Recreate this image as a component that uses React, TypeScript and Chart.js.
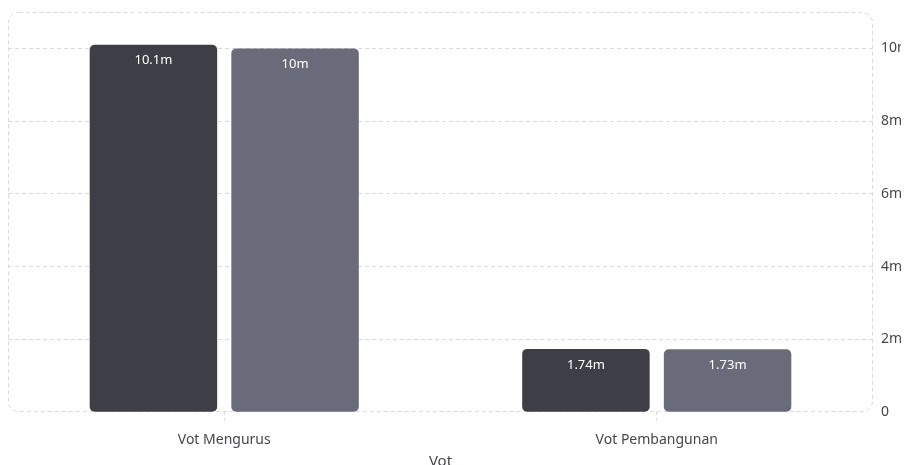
import React, { useEffect, useRef } from "react";
import { Chart, registerables } from "chart.js";

Chart.register(...registerables);

const categories = ["Vot Mengurus", "Vot Pembangunan"];
const seriesA = [10100000, 1740000];
const seriesB = [10000000, 1730000];
const labelsA = ["10.1m", "1.74m"];
const labelsB = ["10m", "1.73m"];
const yTicks = [0, 2000000, 4000000, 6000000, 8000000, 10000000];
const yTickLabels = ["0", "2m", "4m", "6m", "8m", "10m"];
const yMax = 11000000;
const axisTitle = "Vot";

const FONT = "'Noto Sans', 'Open Sans', sans-serif";
const GRID = "#d9d9de";
const TEXT = "#45454d";

const areaBorder = {
  id: "areaBorder",
  beforeDatasetsDraw(chart: any) {
    const { ctx, chartArea } = chart;
    ctx.save();
    ctx.strokeStyle = GRID;
    ctx.lineWidth = 1;
    ctx.setLineDash([4, 3]);
    ctx.beginPath();
    const x = Math.round(chartArea.left) + 0.5;
    const y = Math.round(chartArea.top) + 0.5;
    const w = Math.round(chartArea.right - chartArea.left) - 1;
    const h = Math.round(chartArea.bottom - chartArea.top) - 1;
    (ctx as any).roundRect(x, y, w, h, 10);
    ctx.stroke();
    ctx.restore();
  },
};

const barLabels = {
  id: "barLabels",
  afterDatasetsDraw(chart: any) {
    const { ctx } = chart;
    ctx.save();
    ctx.fillStyle = "#ffffff";
    ctx.font = `13px ${FONT}`;
    ctx.textAlign = "center";
    ctx.textBaseline = "middle";
    chart.data.datasets.forEach((ds: any, i: number) => {
      const meta = chart.getDatasetMeta(i);
      meta.data.forEach((bar: any, j: number) => {
        ctx.fillText(ds.valueLabels[j], bar.x, bar.y + 16);
      });
    });
    ctx.restore();
  },
};

export default function App() {
  const ref = useRef<HTMLCanvasElement>(null);
  useEffect(() => {
    if (!ref.current) return;
    const chart = new Chart(ref.current, {
      type: "bar",
      data: {
        labels: categories,
        datasets: [
          {
            label: "A",
            data: seriesA,
            backgroundColor: "#3e3e47",
            borderRadius: 5,
            borderSkipped: false,
            valueLabels: labelsA,
          } as any,
          {
            label: "B",
            data: seriesB,
            backgroundColor: "#6a6b7a",
            borderRadius: 5,
            borderSkipped: false,
            valueLabels: labelsB,
          } as any,
        ],
      },
      options: {
        animation: false,
        responsive: true,
        maintainAspectRatio: false,
        layout: { padding: { left: 0, top: 4, right: 0, bottom: 0 } },
        datasets: { bar: { categoryPercentage: 0.655, barPercentage: 0.9 } },
        plugins: {
          legend: { display: false },
          tooltip: { enabled: false },
        },
        scales: {
          x: {
            grid: {
              display: true,
              drawOnChartArea: false,
              drawTicks: true,
              tickLength: 9,
              offset: false,
              color: GRID,
              tickBorderDash: [3, 3],
            } as any,
            border: { display: false },
            ticks: {
              color: TEXT,
              font: { family: FONT, size: 14 },
              padding: 10,
            },
            title: {
              display: true,
              text: axisTitle,
              color: TEXT,
              font: { family: FONT, size: 15 },
              padding: { top: -5, bottom: 0 },
            },
          },
          y: {
            position: "right",
            min: 0,
            max: yMax,
            afterBuildTicks(scale: any) {
              scale.ticks = yTicks.map((v) => ({ value: v }));
            },
            afterFit(scale: any) {
              scale.width = 44;
              scale.paddingTop = 0;
              scale.paddingBottom = 0;
            },
            grid: {
              color: (c: any) => (c.tick && c.tick.value > 0 ? GRID : "rgba(0,0,0,0)"),
              drawTicks: false,
            },
            border: { display: false, dash: [4, 3] },
            ticks: {
              autoSkip: false,
              color: TEXT,
              font: { family: FONT, size: 14 },
              padding: 8,
              callback: (_v: any, i: number) => yTickLabels[i],
            },
          } as any,
        },
      },
      plugins: [areaBorder, barLabels],
    });
    return () => chart.destroy();
  }, []);
  return (
    <div style={{ width: 909, height: 463, position: "relative" }}>
      <canvas ref={ref} />
    </div>
  );
}
